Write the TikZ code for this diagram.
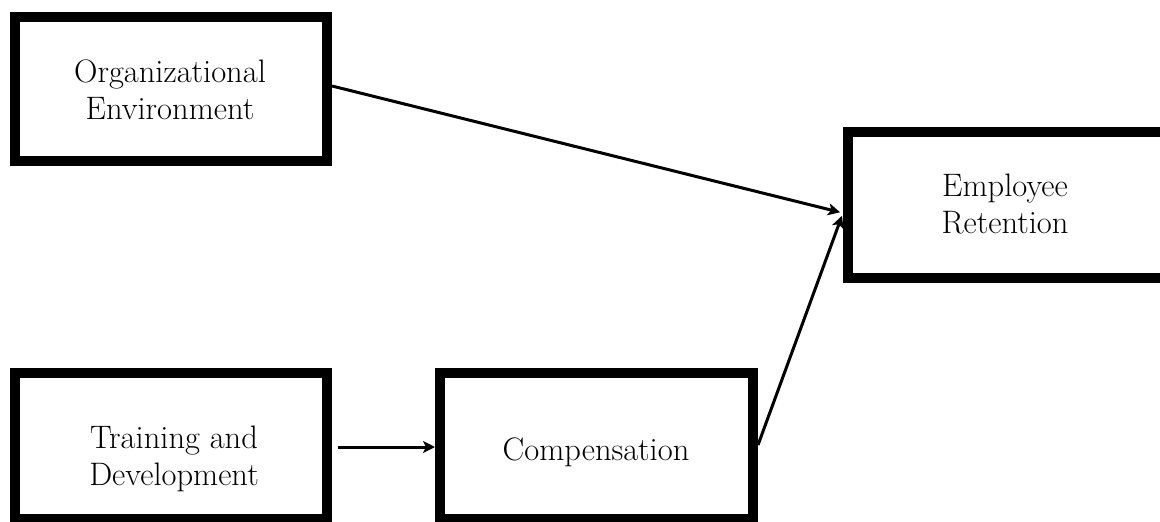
\documentclass[tikz,border=0pt]{standalone}
\usetikzlibrary{arrows.meta}
\begin{document}
\begin{tikzpicture}[x=1pt,y=-1pt,
  box/.style={draw=black, line width=10pt, fill=white, inner sep=0pt},
  lbl/.style={inner sep=0pt, align=center, font=\fontsize{32.5}{37}\selectfont},
  link/.style={line width=3pt, -{Stealth[length=12pt,width=12pt,inset=3pt]}}]
  \useasboundingbox (0,0) rectangle (1160,522);
  \begin{scope}
    \clip (0,0) rectangle (1160,522);
    % factor boxes
    \node[box, minimum width=312pt, minimum height=144pt] (oe) at (171,89) {};
    \node[box, minimum width=330pt, minimum height=146pt] (er) at (1013,205) {};
    \node[box, minimum width=312pt, minimum height=146pt] (td) at (171,446) {};
    \node[box, minimum width=313pt, minimum height=146pt] (cp) at (596.5,446) {};
  \end{scope}
  % box captions
  \node[lbl] (oet) at (170,90)  {Organizational\\Environment};
  \node[lbl] (ert) at (1005,204) {Employee\\Retention};
  \node[lbl] (tdt) at (174,459) {Training and\\Development};
  \node[lbl] (cpt) at (596,452) {Compensation};
  % relations
  \draw[link, shorten >=3pt] ([yshift=3pt]oe.east) -- ([yshift=-8pt]er.west);
  \draw[link, shorten >=3pt] ([yshift=1pt]cp.east) -- ([yshift=-8pt]er.west);
  \draw[link, shorten <=6pt] ([yshift=-1pt]td.east) -- ([yshift=-1pt]cp.west);
\end{tikzpicture}
\end{document}
